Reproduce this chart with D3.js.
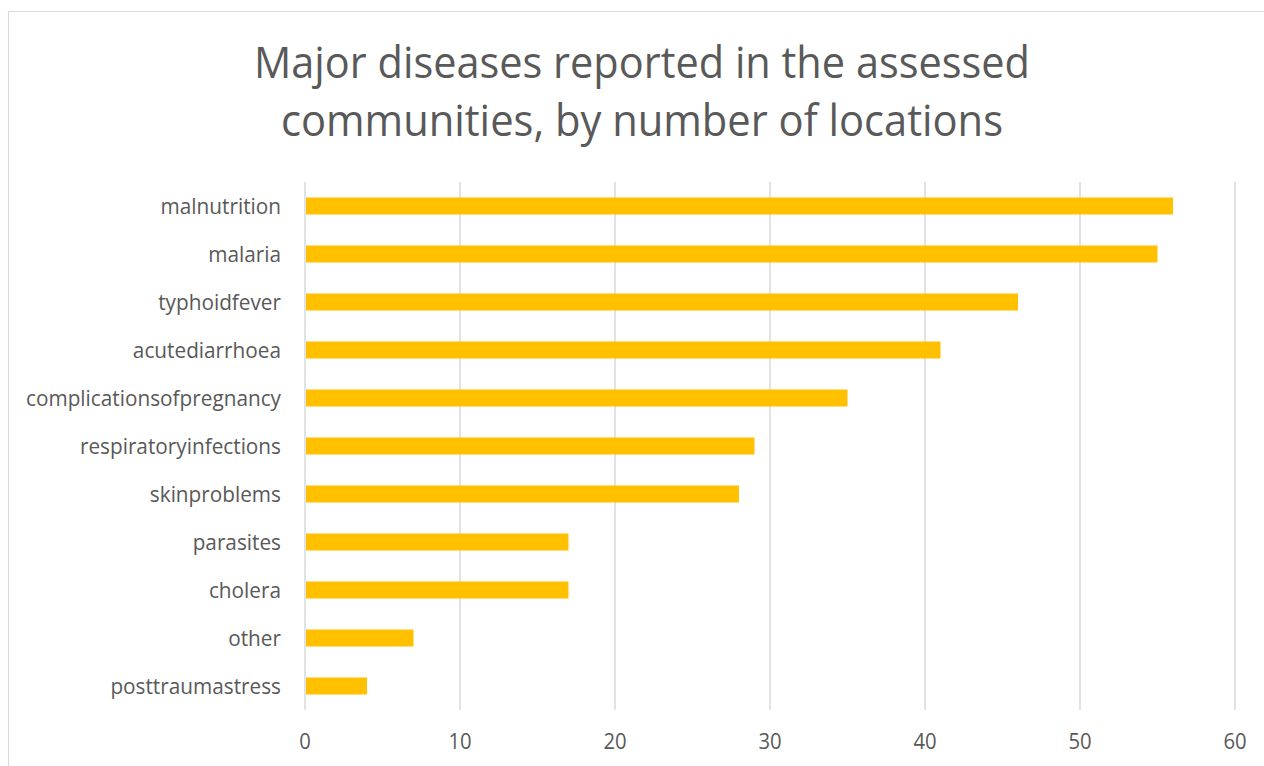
<!DOCTYPE html>
<html>
<head>
<meta charset="utf-8">
<script src="https://cdn.jsdelivr.net/npm/d3@7"></script>
<style>
  html, body { margin: 0; padding: 0; background: #fff; }
  svg { display: block; }
  text { font-family: "Open Sans", "Noto Sans", sans-serif; fill: #595959; }
</style>
</head>
<body>
<svg id="chart" width="1264" height="766"></svg>
<script>
const categories = ["malnutrition", "malaria", "typhoidfever", "acutediarrhoea", "complicationsofpregnancy",
  "respiratoryinfections", "skinproblems", "parasites", "cholera", "other", "posttraumastress"];
const values = [56, 55, 46, 41, 35, 29, 28, 17, 17, 7, 4];
const xTicks = [0, 10, 20, 30, 40, 50, 60];
const titleLines = ["Major diseases reported in the assessed", "communities, by number of locations"];

const svg = d3.select("#chart");
const plot = { left: 305, right: 1235, top: 182, bottom: 710 };

// border (top and left edges visible)
svg.append("path")
  .attr("d", "M8.5,766 L8.5,11.5 L1264,11.5")
  .attr("fill", "none").attr("stroke", "#D9D9D9").attr("stroke-width", 1.2);

const x = d3.scaleLinear().domain([0, 60]).range([plot.left, plot.right]);
const y = d3.scaleBand().domain(categories).range([plot.top, plot.bottom])
  .paddingInner(0.646).paddingOuter(0.323);

// gridlines
svg.append("g").selectAll("line").data(xTicks).join("line")
  .attr("x1", d => x(d)).attr("x2", d => x(d))
  .attr("y1", plot.top).attr("y2", plot.bottom)
  .attr("stroke", "#D9D9D9").attr("stroke-width", 1.5);

// bars
svg.append("g").selectAll("rect").data(values).join("rect")
  .attr("x", x(0) + 1)
  .attr("y", (d, i) => y(categories[i]))
  .attr("width", d => x(d) - x(0) - 1)
  .attr("height", y.bandwidth())
  .attr("fill", "#FFC000");

function fit(sel, factor) {
  sel.each(function () {
    const w = this.getComputedTextLength();
    d3.select(this).attr("textLength", w * factor).attr("lengthAdjust", "spacingAndGlyphs");
  });
}

// category labels
const labels = svg.append("g").selectAll("text").data(categories).join("text")
  .attr("x", 281)
  .attr("y", d => y(d) + y.bandwidth() / 2)
  .attr("dy", "0.36em")
  .attr("text-anchor", "end")
  .style("font-size", "21px")
  .text(d => d);
const refNode = labels.filter(d => d === "complicationsofpregnancy").node();
const labFactor = 255 / refNode.getComputedTextLength();
fit(labels, labFactor);

// x tick labels
const ticks = svg.append("g").selectAll("text").data(xTicks).join("text")
  .attr("x", d => x(d))
  .attr("y", 741)
  .attr("dy", "0.36em")
  .attr("text-anchor", "middle")
  .style("font-size", "22px")
  .text(d => d);
fit(ticks, 0.92);

// title
const tl = svg.append("g").selectAll("text").data(titleLines).join("text")
  .attr("x", 642)
  .attr("y", (d, i) => 78 + i * 58)
  .attr("text-anchor", "middle")
  .style("font-size", "44px")
  .text(d => d);
const tw = [776, 722];
tl.each(function (d, i) {
  d3.select(this).attr("textLength", tw[i]).attr("lengthAdjust", "spacingAndGlyphs");
});
</script>
</body>
</html>
